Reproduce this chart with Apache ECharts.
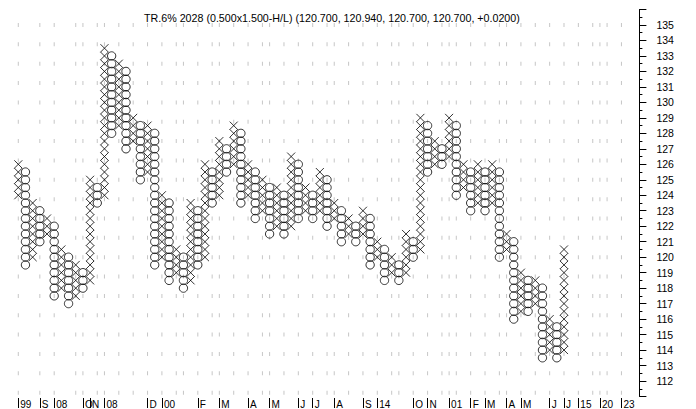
<!DOCTYPE html>
<html>
<head>
<meta charset="utf-8">
<script src="https://cdn.jsdelivr.net/npm/echarts@6/dist/echarts.min.js"></script>
<style>
html,body{margin:0;padding:0;background:#fff;}
#chart{width:696px;height:409px;}
</style>
</head>
<body>
<div id="chart"></div>
<script>
// Point & figure columns (box 0.5, 3-box reversal). Column 0 is X, then alternating O / X.
const colHigh = [126,125.5,123.5,123,122.5,122,120.5,120,119.5,119,125,124.5,133.5,133,132.5,132,129,128.5,128.5,128,
  124,123.5,120.5,120,123.5,123,126,125.5,127.5,127,128.5,128,126,125.5,125,124.5,124.5,124,126.5,126,
  124.5,124,125.5,125,123.5,123,122.5,122,123,122.5,121,120.5,120,119.5,121.5,121,129,128.5,127.5,127,
  129,128.5,126,125.5,126,125.5,126,125.5,121.5,121,119,118.5,118.5,118,116,115.5,120.5];
const colLow = [124,119.5,120,121,121.5,117.5,118,117,117.5,118,118.5,123.5,124,128,128.5,127,127.5,125,125.5,119.5,
  120,118.5,119,118,118.5,119.5,120,123.5,124,125.5,126,123.5,124,122.5,123,121.5,122,121.5,122,122.5,
  123,122.5,123,122,122.5,121,121.5,121,121.5,119.5,120,118.5,119,118.5,119,120,120.5,125.5,126,126,
  126.5,124,124.5,123,123.5,123,123.5,120,120.5,116,116.5,116.5,117,113.5,114,113.5,114];

const numCats = 87;
const dateLabelCols = [0,3,5,9,10,12,18,20,25,28,32,35,39,41,44,48,50,55,57,60,63,65,68,70,74,76,78,81,84];
const dateLabelTexts = ['99','S','08','O','N','08','D','00','F','M','A','M','J','J','A','S','14','O','N','01','F','M','A','M','J','J','15','20','23'];
const gridCols = [0,3,5,8,9,11,12,14,16,18,20,22,23,25,27,28,30,32,34,35,37,39,41,43,44,46,48,50,52,53,55,57,59,60,61,63,65,67,68,70,72,74,76,78,80,81,82,84];
const gridVals = [111.25,112.5,113.75,115,116.25,117.5,118.75,120,121.25,122.5,123.75,125,126.25,127.5,128.75,130,131.25,132.5,133.75,135];
const priceLabelMin = 112, priceLabelMax = 135;
const titleText = 'TR.6% 2028 (0.500x1.500-H/L) (120.700, 120.940, 120.700, 120.700, +0.0200)';
const boxSize = 0.5;

const xPts = [], oPts = [];
for (let i = 0; i < colHigh.length; i++) {
  const target = (i % 2 === 0) ? xPts : oPts;
  const n = Math.round((colHigh[i] - colLow[i]) / boxSize);
  for (let k = 0; k <= n; k++) target.push([i, colLow[i] + k * boxSize]);
}
const dashPts = [];
gridCols.forEach(c => gridVals.forEach(v => dashPts.push([c, v])));

const labelMap = {};
dateLabelCols.forEach((c, i) => { labelMap[c] = dateLabelTexts[i]; });
const cats = [];
for (let i = 0; i < numCats; i++) cats.push(String(i));

const narrow = 'Liberation Sans Narrow, Arial Narrow, Liberation Sans, Arial, sans-serif';
const chart = echarts.init(document.getElementById('chart'), null, {renderer: 'svg'});
chart.setOption({
  animation: false,
  backgroundColor: '#fff',
  textStyle: {fontFamily: 'Liberation Sans, Arial, sans-serif'},
  title: {
    text: titleText, left: 144, top: 12, padding: 0,
    textStyle: {fontSize: 10.7, fontWeight: 'normal', color: '#000', fontFamily: 'Liberation Sans, Arial, sans-serif'}
  },
  grid: {left: 14.7, right: 56.6, top: 9.5, bottom: 12.5, containLabel: false},
  xAxis: {
    type: 'category', data: cats, boundaryGap: true, offset: 1.5,
    axisLine: {show: false},
    axisTick: {show: true, alignWithLabel: true, length: 10, interval: (idx) => labelMap[idx] !== undefined,
      lineStyle: {color: '#000', width: 1}},
    splitLine: {show: false},
    axisLabel: {
      interval: 0, align: 'left', margin: 1, fontSize: 10, color: '#000', fontFamily: narrow,
      padding: [0, 0, 0, 2], hideOverlap: false,
      formatter: (v, idx) => labelMap[idx] !== undefined ? labelMap[idx] : ''
    }
  },
  yAxis: {
    type: 'value', position: 'right', min: 111, max: 136, interval: 1,
    axisLine: {show: true, lineStyle: {color: '#000', width: 1}},
    axisTick: {show: true, length: 7, lineStyle: {color: '#000'}},
    minorTick: {show: true, splitNumber: 2, length: 3, lineStyle: {color: '#000'}},
    splitLine: {show: false},
    axisLabel: {margin: 17, fontSize: 10.5, color: '#000', hideOverlap: false,
      formatter: (v) => (v >= priceLabelMin && v <= priceLabelMax) ? String(v) : ''}
  },
  series: [
    {
      type: 'scatter', data: dashPts, symbol: 'rect', symbolSize: [1, 4], silent: true, z: 1,
      itemStyle: {color: '#b8b8b8'}
    },
    {
      type: 'scatter', data: oPts, symbol: 'circle', symbolSize: 8.3, silent: true, z: 3,
      itemStyle: {color: 'rgba(0,0,0,0)', borderColor: '#000', borderWidth: 1}
    },
    {
      type: 'scatter', data: xPts, symbol: 'path://M0,0L10,10M10,0L0,10', symbolSize: 8, silent: true, z: 4,
      itemStyle: {color: 'rgba(0,0,0,0)', borderColor: '#000', borderWidth: 1}
    }
  ]
});
</script>
</body>
</html>
